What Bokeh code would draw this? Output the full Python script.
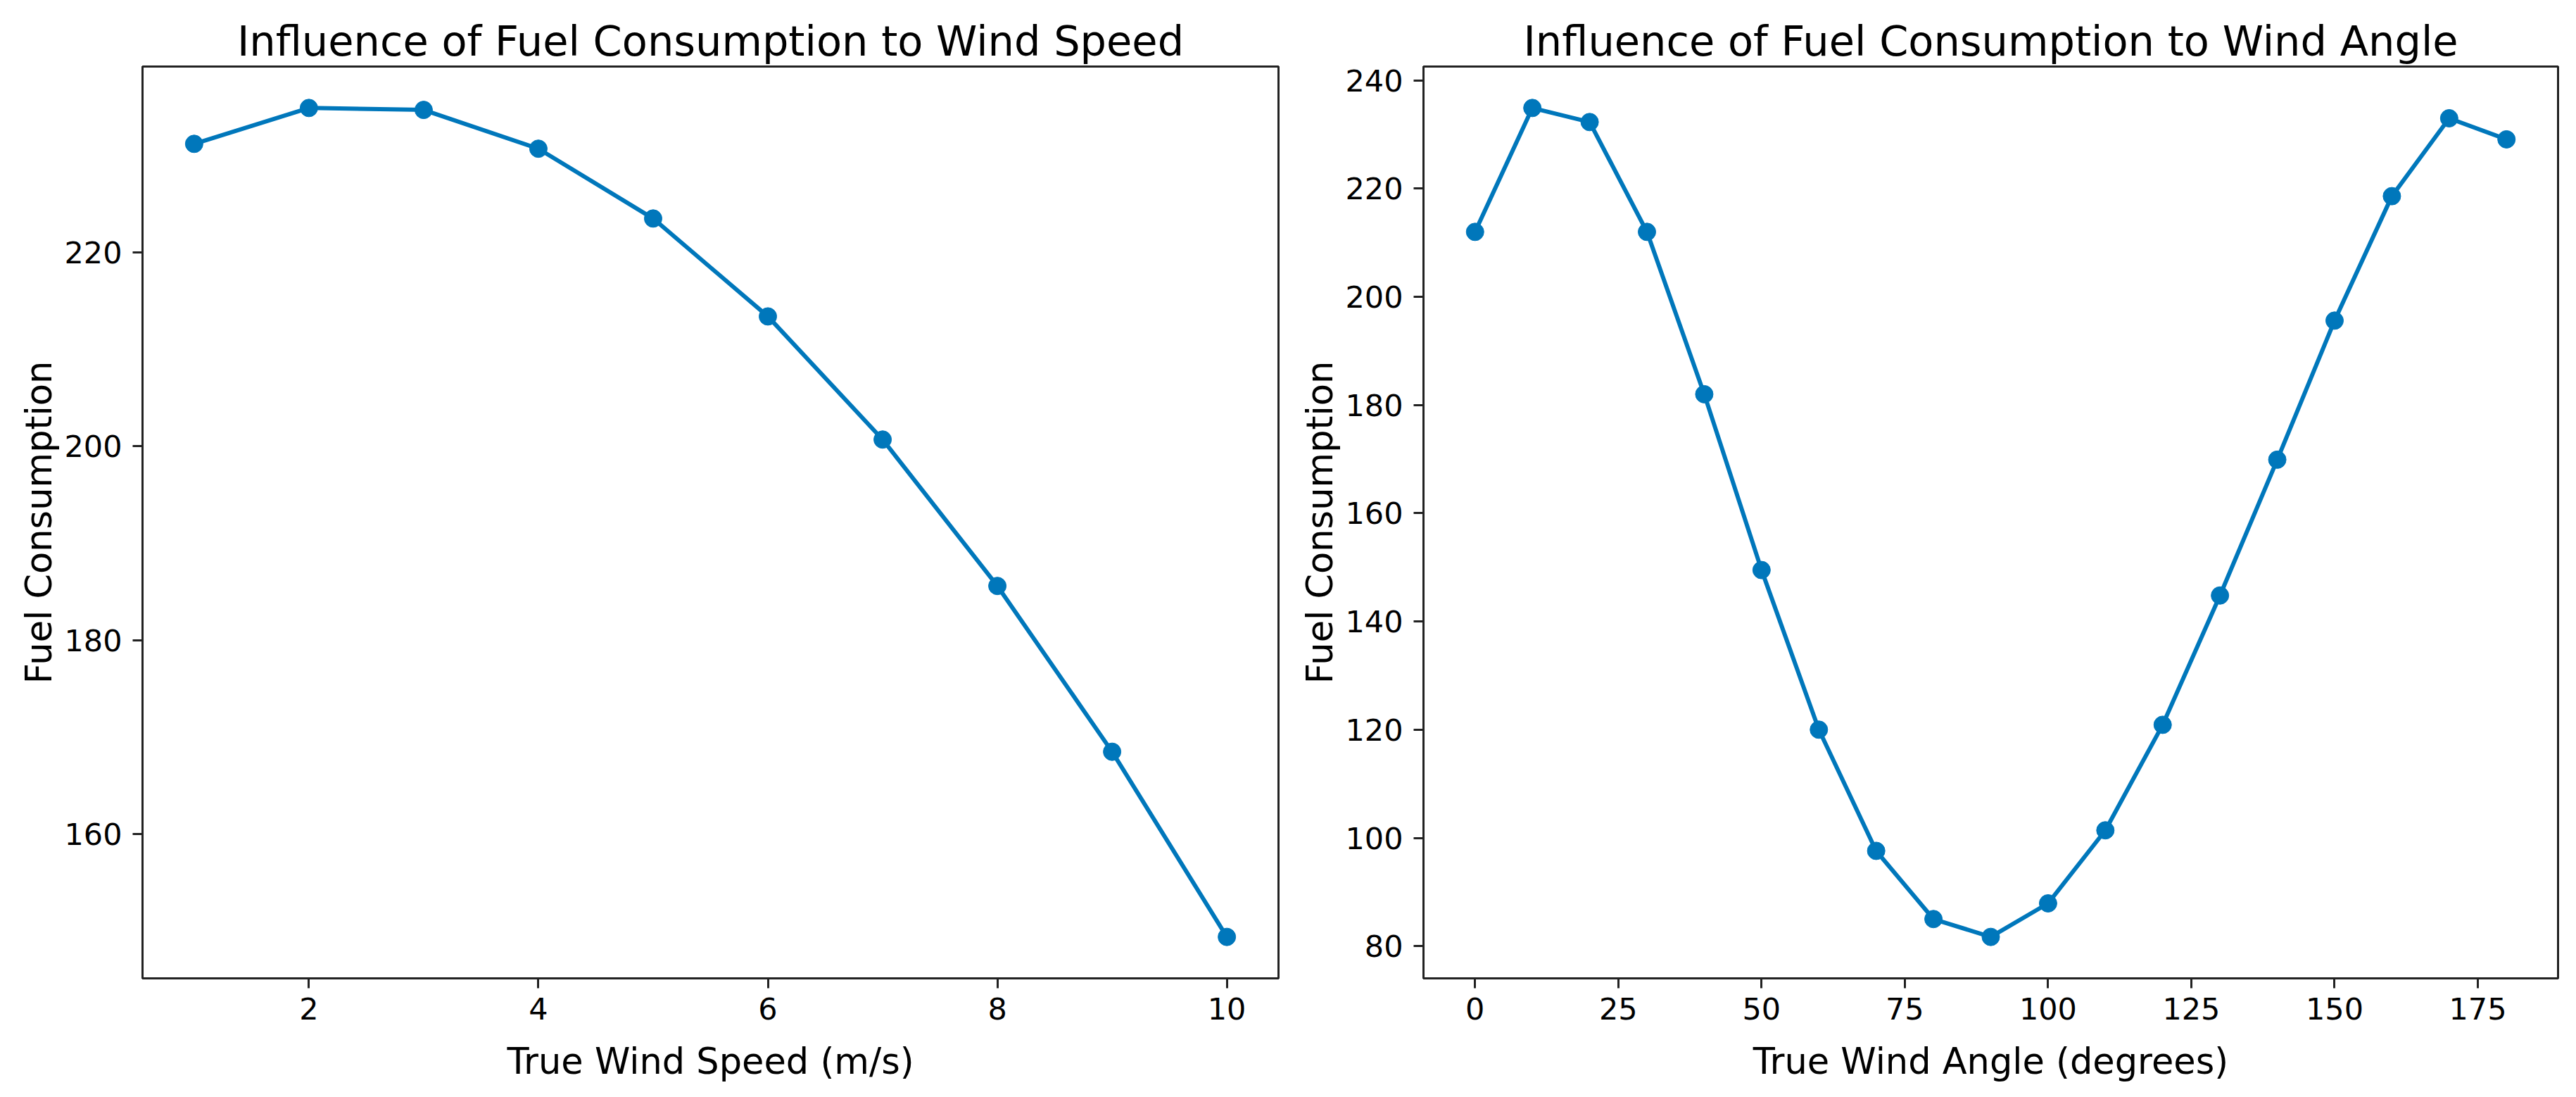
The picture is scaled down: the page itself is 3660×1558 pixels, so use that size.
from bokeh.plotting import figure
from bokeh.layouts import row
from bokeh.models import SingleIntervalTicker, Range1d
from bokeh.embed import file_html
from bokeh.resources import INLINE

# ---- data ----
wind_speed = [1, 2, 3, 4, 5, 6, 7, 8, 9, 10]
fuel_by_speed = [231.2, 234.9, 234.7, 230.7, 223.5, 213.4, 200.7, 185.6, 168.5, 149.4]

wind_angle = [0, 10, 20, 30, 40, 50, 60, 70, 80, 90, 100, 110, 120, 130, 140, 150, 160, 170, 180]
fuel_by_angle = [212.0, 234.9, 232.3, 212.0, 182.0, 149.5, 120.0, 97.6, 85.0, 81.7,
                 87.9, 101.4, 120.9, 144.8, 169.9, 195.6, 218.6, 233.0, 229.1]

titles = ["Influence of Fuel Consumption to Wind Speed", "Influence of Fuel Consumption to Wind Angle"]
x_labels = ["True Wind Speed (m/s)", "True Wind Angle (degrees)"]
y_label = "Fuel Consumption"

COLOR = "#0077BB"
FONT = "DejaVu Sans"
SPINE = "#222222"


def padded(vals, frac=0.05):
    lo, hi = min(vals), max(vals)
    d = (hi - lo) * frac
    return Range1d(lo - d, hi + d)


def make(x, y, title, xlabel, xint, yint, width, bl, br):
    p = figure(width=width, height=1540, output_backend="svg", toolbar_location=None,
               x_range=padded(x), y_range=padded(y),
               min_border_left=bl, min_border_right=br, min_border_top=94, min_border_bottom=151)
    p.line(x, y, line_color=COLOR, line_width=6)
    p.scatter(x, y, size=25, fill_color=COLOR, line_color=COLOR)

    p.title.text = title
    p.title.text_font = FONT
    p.title.text_font_size = "59px"
    p.title.text_font_style = "normal"
    p.title.align = "center"
    p.title.text_color = "black"
    p.title.standoff = 3

    p.xgrid.visible = False
    p.ygrid.visible = False
    p.outline_line_color = SPINE
    p.outline_line_width = 3
    p.outline_line_alpha = 1.0

    p.xaxis.ticker = SingleIntervalTicker(interval=xint, num_minor_ticks=0)
    p.yaxis.ticker = SingleIntervalTicker(interval=yint, num_minor_ticks=0)
    p.xaxis.axis_label = xlabel
    p.yaxis.axis_label = y_label
    for ax in (p.xaxis[0], p.yaxis[0]):
        ax.axis_line_color = SPINE
        ax.axis_line_width = 3
        ax.major_tick_line_color = SPINE
        ax.major_tick_line_width = 3
        ax.major_tick_out = 14
        ax.major_tick_in = 0
        ax.minor_tick_line_color = None
        ax.major_label_text_font = FONT
        ax.major_label_text_font_size = "43px"
        ax.major_label_text_color = "black"
        ax.axis_label_text_font = FONT
        ax.axis_label_text_font_size = "51px"
        ax.axis_label_text_font_style = "normal"
        ax.axis_label_text_color = "black"
    p.xaxis.major_label_standoff = 13
    p.xaxis.axis_label_standoff = 27
    p.yaxis.major_label_standoff = 15
    p.yaxis.axis_label_standoff = 3
    return p


p1 = make(wind_speed, fuel_by_speed, titles[0], x_labels[0], 2, 20, 1824, 202, 8)
p2 = make(wind_angle, fuel_by_angle, titles[1], x_labels[1], 25, 20, 1812, 198, 2)

layout = row(p1, p2)
open("out.html", "w").write(file_html(layout, INLINE))
